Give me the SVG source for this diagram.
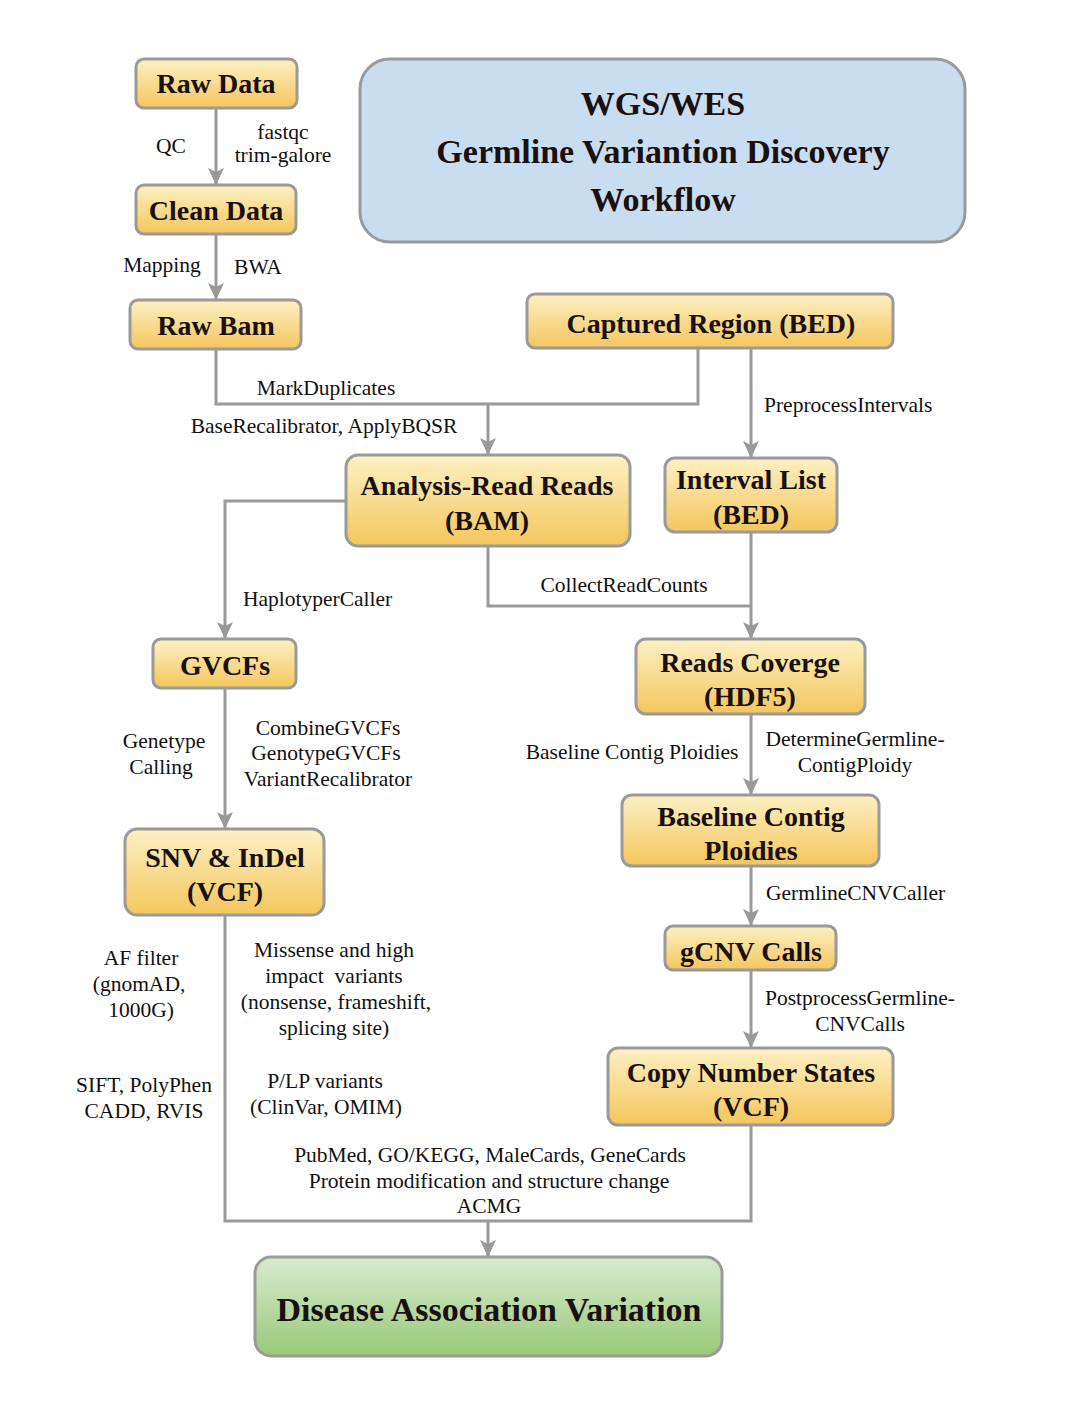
<svg xmlns="http://www.w3.org/2000/svg" width="1080" height="1406" viewBox="0 0 1080 1406">
<defs>
<linearGradient id="gy" x1="0" y1="0" x2="0" y2="1">
<stop offset="0" stop-color="#fdf0c4"/>
<stop offset="1" stop-color="#f4c65c"/>
</linearGradient>
<linearGradient id="gg" x1="0" y1="0" x2="0" y2="1">
<stop offset="0" stop-color="#d8ead0"/>
<stop offset="1" stop-color="#98c977"/>
</linearGradient>
<marker id="ah" markerUnits="userSpaceOnUse" markerWidth="18" markerHeight="18" viewBox="0 0 18 18" refX="16" refY="9" orient="auto">
<path d="M0,1 L17,9 L0,17 L4,9 Z" fill="#999"/>
</marker>
<style>
.n{fill:url(#gy);stroke:#9a9a9a;stroke-width:3}
.t{font-family:"Liberation Serif",serif;font-weight:bold;font-size:28px;fill:#1a1010;text-anchor:middle}
.b{font-size:34px}
.l{font-family:"Liberation Serif",serif;font-size:21.5px;fill:#111;text-anchor:middle}
.s{text-anchor:start}
.c{fill:none;stroke:#9a9a9a;stroke-width:3}
</style>
</defs>
<rect width="1080" height="1406" fill="#fff"/>

<g id="connectors">
<path class="c" d="M216,108 V184" marker-end="url(#ah)"/>
<path class="c" d="M216,234 V299" marker-end="url(#ah)"/>
<path class="c" d="M216,349 V404 H698 V348"/>
<path class="c" d="M488,404 V454" marker-end="url(#ah)"/>
<path class="c" d="M751,348 V457" marker-end="url(#ah)"/>
<path class="c" d="M346,501 H225 V638" marker-end="url(#ah)"/>
<path class="c" d="M488,546 V606 H751"/>
<path class="c" d="M751,532 V638" marker-end="url(#ah)"/>
<path class="c" d="M751,714 V794" marker-end="url(#ah)"/>
<path class="c" d="M751,866 V925" marker-end="url(#ah)"/>
<path class="c" d="M751,970 V1047" marker-end="url(#ah)"/>
<path class="c" d="M225,688 V828" marker-end="url(#ah)"/>
<path class="c" d="M225,915 V1221 H751 V1125"/>
<path class="c" d="M488,1221 V1256" marker-end="url(#ah)"/>
</g>

<g id="labels">
<text class="l" x="171" y="153">QC</text>
<text class="l" x="283" y="139">fastqc</text>
<text class="l" x="283" y="162">trim-galore</text>
<text class="l" x="162" y="272">Mapping</text>
<text class="l" x="258" y="274">BWA</text>
<text class="l" x="326" y="395">MarkDuplicates</text>
<text class="l" x="324" y="433">BaseRecalibrator, ApplyBQSR</text>
<text class="l s" x="764" y="412">PreprocessIntervals</text>
<text class="l s" x="243" y="606">HaplotyperCaller</text>
<text class="l" x="624" y="592">CollectReadCounts</text>
<text class="l" x="164" y="748">Genetype</text>
<text class="l" x="161" y="774">Calling</text>
<text class="l" x="328" y="735">CombineGVCFs</text>
<text class="l" x="326" y="760">GenotypeGVCFs</text>
<text class="l" x="328" y="786">VariantRecalibrator</text>
<text class="l" x="632" y="759">Baseline Contig Ploidies</text>
<text class="l" x="855" y="746">DetermineGermline-</text>
<text class="l" x="855" y="772">ContigPloidy</text>
<text class="l s" x="766" y="900">GermlineCNVCaller</text>
<text class="l" x="860" y="1005">PostprocessGermline-</text>
<text class="l" x="860" y="1031">CNVCalls</text>
<text class="l" x="141" y="965">AF filter</text>
<text class="l" x="139" y="991">(gnomAD,</text>
<text class="l" x="141" y="1017">1000G)</text>
<text class="l" x="334" y="957">Missense and high</text>
<text class="l" x="334" y="983" xml:space="preserve">impact  variants</text>
<text class="l" x="336" y="1009">(nonsense, frameshift,</text>
<text class="l" x="334" y="1035">splicing site)</text>
<text class="l" x="144" y="1092">SIFT, PolyPhen</text>
<text class="l" x="144" y="1118">CADD, RVIS</text>
<text class="l" x="325" y="1088">P/LP variants</text>
<text class="l" x="326" y="1114">(ClinVar, OMIM)</text>
<text class="l" x="490" y="1162">PubMed, GO/KEGG, MaleCards, GeneCards</text>
<text class="l" x="489" y="1188">Protein modification and structure change</text>
<text class="l" x="489" y="1213">ACMG</text>
</g>

<g id="title">
<rect x="360" y="59" width="605" height="183" rx="30" fill="#c9ddf1" stroke="#9a9a9a" stroke-width="3"/>
<text class="t b" x="663" y="115">WGS/WES</text>
<text class="t b" x="663" y="163">Germline Variantion Discovery</text>
<text class="t b" x="663" y="211">Workflow</text>
</g>

<g id="raw-data">
<rect class="n" x="136" y="59" width="161" height="49" rx="8"/>
<text class="t" x="216" y="93">Raw Data</text>
</g>
<g id="clean-data">
<rect class="n" x="136" y="185" width="160" height="49" rx="8"/>
<text class="t" x="216" y="220">Clean Data</text>
</g>
<g id="raw-bam">
<rect class="n" x="130" y="300" width="171" height="49" rx="8"/>
<text class="t" x="216" y="335">Raw Bam</text>
</g>
<g id="captured-region">
<rect class="n" x="527" y="294" width="366" height="54" rx="8"/>
<text class="t" x="711" y="333">Captured Region (BED)</text>
</g>
<g id="analysis-read">
<rect class="n" x="346" y="455" width="284" height="91" rx="12"/>
<text class="t" x="487" y="495">Analysis-Read Reads</text>
<text class="t" x="487" y="530">(BAM)</text>
</g>
<g id="interval-list">
<rect class="n" x="665" y="458" width="172" height="74" rx="10"/>
<text class="t" x="751" y="489">Interval List</text>
<text class="t" x="751" y="524">(BED)</text>
</g>
<g id="gvcfs">
<rect class="n" x="153" y="639" width="143" height="49" rx="8"/>
<text class="t" x="225" y="675">GVCFs</text>
</g>
<g id="reads-coverage">
<rect class="n" x="636" y="639" width="229" height="75" rx="10"/>
<text class="t" x="750" y="672">Reads Coverge</text>
<text class="t" x="750" y="706">(HDF5)</text>
</g>
<g id="baseline-ploidies">
<rect class="n" x="622" y="795" width="257" height="71" rx="10"/>
<text class="t" x="751" y="826">Baseline Contig</text>
<text class="t" x="751" y="860">Ploidies</text>
</g>
<g id="snv-indel">
<rect class="n" x="125" y="829" width="199" height="86" rx="12"/>
<text class="t" x="225" y="867">SNV &amp; InDel</text>
<text class="t" x="225" y="901">(VCF)</text>
</g>
<g id="gcnv-calls">
<rect class="n" x="665" y="926" width="171" height="44" rx="8"/>
<text class="t" x="751" y="961">gCNV Calls</text>
</g>
<g id="copy-number">
<rect class="n" x="608" y="1048" width="285" height="77" rx="10"/>
<text class="t" x="751" y="1082">Copy Number States</text>
<text class="t" x="751" y="1116">(VCF)</text>
</g>
<g id="disease-association">
<rect x="255" y="1257" width="467" height="99" rx="16" fill="url(#gg)" stroke="#9a9a9a" stroke-width="3"/>
<text class="t b" x="489" y="1321">Disease Association Variation</text>
</g>
</svg>
